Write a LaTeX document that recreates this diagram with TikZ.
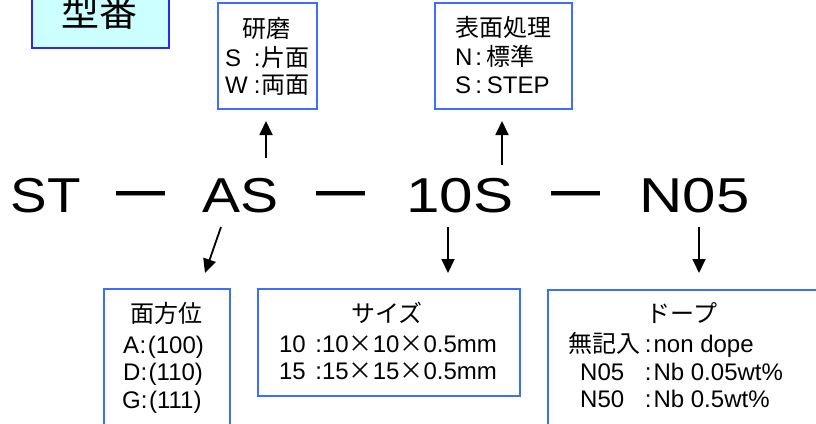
\documentclass[tikz,border=0pt]{standalone}
\usepackage{fontspec}
\usepackage{graphicx}
\setmainfont{Liberation Sans}
\newfontfamily\jp{Noto Sans CJK JP}
\usetikzlibrary{arrows.meta}
\definecolor{kbfill}{RGB}{204,255,255}
\definecolor{kbdraw}{RGB}{40,40,255}
\definecolor{bxdraw}{RGB}{60,110,255}
\newcommand\bxf{\fontsize{24}{28}\selectfont}
\newcommand\bigf{\fontsize{49}{49}\selectfont}
\begin{document}
\begin{tikzpicture}[x=1pt,y=-1pt,
  kbbox/.style={draw=kbdraw,fill=kbfill,line width=2pt,inner sep=0pt,anchor=north west},
  infobox/.style={draw=bxdraw,line width=2pt,inner sep=0pt,anchor=north west},
  txt/.style={inner sep=0pt,font=\bxf},
  token/.style={inner sep=0pt,font=\bigf,anchor=base},
  bar/.style={inner sep=0pt,font=\bigf,anchor=north},
  arr/.style={line width=1.8pt,-{Triangle[length=14pt,width=13pt]}}]
\useasboundingbox (0,0) rectangle (816,423);
\clip (0,0) rectangle (816,423);
% title box
\node[kbbox,minimum width=137pt,minimum height=62pt] (kb) at (31,-15) {};
\node[inner sep=0pt,anchor=base,font=\jp\fontsize{38}{38}\selectfont] (kbt) at (99,27) {型番};
% upper boxes
\node[infobox,minimum width=99pt,minimum height=106pt] (kenma) at (217,2) {};
\node[txt,anchor=base] (k1) at (266,37) {\jp 研磨};
\node[txt,anchor=base west] (k2) at (225,66) {\makebox[28.7pt][l]{S}:\hspace{1.1pt}{\jp 片面}};
\node[txt,anchor=base west] (k3) at (225,93) {\makebox[28.7pt][l]{W}:\hspace{1.1pt}{\jp 両面}};
\node[infobox,minimum width=137pt,minimum height=106pt] (hyomen) at (434,2) {};
\node[txt,anchor=base west] (h1) at (455,36) {\jp 表面処理};
\node[txt,anchor=base west] (h2) at (455,65) {\makebox[20.2pt][l]{N}:\hspace{4.6pt}{\jp 標準}};
\node[txt,anchor=base west] (h3) at (455,93) {\makebox[20.2pt][l]{S}:\hspace{4.8pt}STEP};
% main code
\node[token] (st) at (46,212.5) {\resizebox{70pt}{\height}{ST}};
\node[bar] (d1) at (141,191.5) {\scalebox{1}[1.35]{—}};
\node[token] (as) at (240,212.5) {\resizebox{76pt}{\height}{AS}};
\node[bar] (d2) at (341,191.5) {\scalebox{1}[1.35]{—}};
\node[token] (ten) at (460,212.5) {\resizebox{107pt}{\height}{10S}};
\node[bar] (d3) at (576,191.5) {\scalebox{1}[1.35]{—}};
\node[token] (n05) at (694.5,212.5) {\resizebox{110pt}{\height}{N05}};
% lower boxes
\node[infobox,minimum width=126pt,minimum height=152pt] (menhoui) at (103,288) {};
\node[txt,anchor=base] (m1) at (166,322) {\jp 面方位};
\node[txt,anchor=base west] (m2) at (123,353) {A\hspace{0.5pt}:\hspace{1.5pt}(100)};
\node[txt,anchor=base west] (m3) at (123,380) {D:\hspace{1.5pt}(110)};
\node[txt,anchor=base west] (m4) at (122,408) {G:\hspace{1.5pt}(111)};
\node[infobox,minimum width=262pt,minimum height=107pt] (size) at (257,288) {};
\node[txt,anchor=base] (s1) at (387,322) {\jp サイズ};
\node[txt,anchor=base] (s2) at (388,352) {10\hspace{3pt} :10{\jp ×}10{\jp ×}0.5mm};
\node[txt,anchor=base] (s3) at (388,379) {15\hspace{3pt} :15{\jp ×}15{\jp ×}0.5mm};
\node[infobox,minimum width=293pt,minimum height=151pt] (dope) at (547,289) {};
\node[txt,anchor=base] (p1) at (682,322) {\jp ドープ};
\node[txt,anchor=base west] (p2) at (568,352) {\makebox[76.7pt][l]{\jp 無記入}:\hspace{2pt}non dope};
\node[txt,anchor=base west] (p3) at (568,380) {\makebox[76.7pt][l]{\hspace{12pt}N05}:\hspace{2pt}Nb 0.05wt\%};
\node[txt,anchor=base west] (p4) at (568,407) {\makebox[76.7pt][l]{\hspace{12pt}N50}:\hspace{2pt}Nb 0.5wt\%};
% arrows
\coordinate (u1s) at (266,158); \coordinate (u1e) at (266,121);
\coordinate (u2s) at (502,165); \coordinate (u2e) at (502,121);
\coordinate (a1s) at (221,227); \coordinate (a1e) at (205,273);
\coordinate (a2s) at (448,227); \coordinate (a2e) at (448,273);
\coordinate (a3s) at (699,227); \coordinate (a3e) at (699,273);
\draw[arr] (u1s) -- (u1e);
\draw[arr] (u2s) -- (u2e);
\draw[arr] (a1s) -- (a1e);
\draw[arr] (a2s) -- (a2e);
\draw[arr] (a3s) -- (a3e);
\end{tikzpicture}
\end{document}
